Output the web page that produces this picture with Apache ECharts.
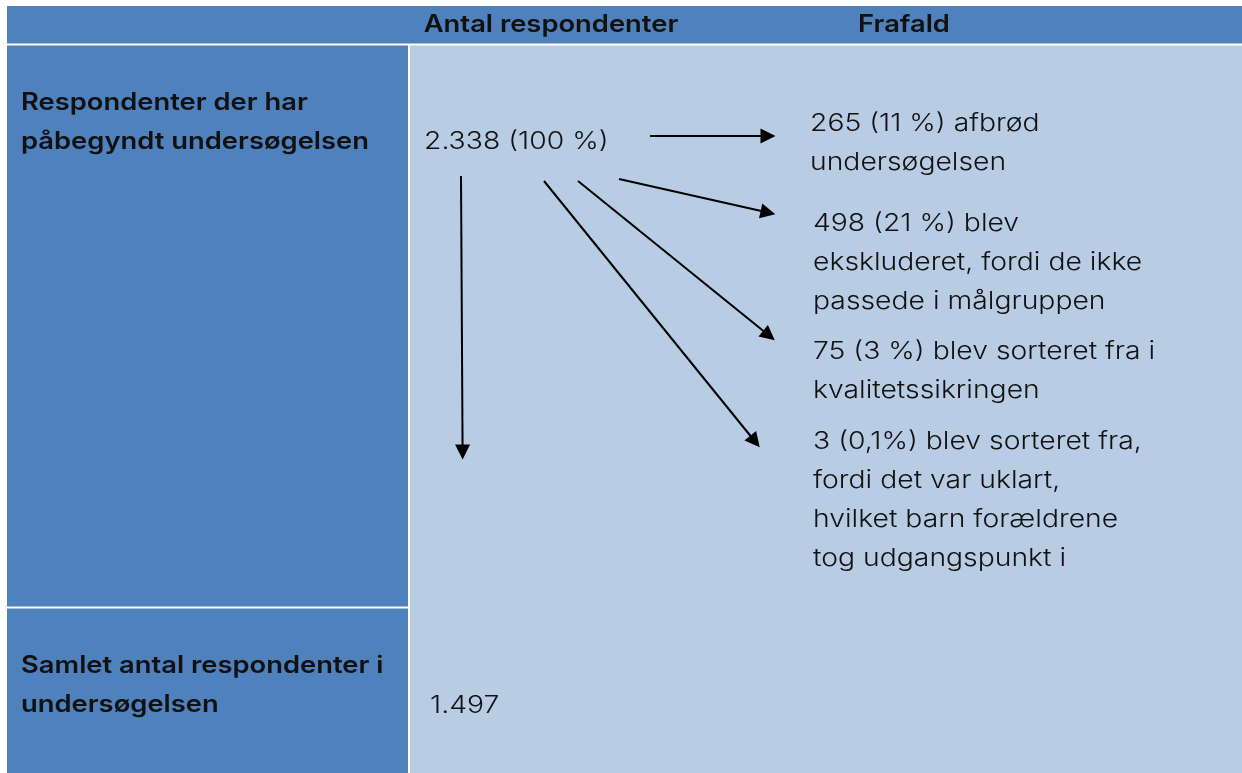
<!DOCTYPE html>
<html>
<head>
<meta charset="utf-8">
<script src="https://cdn.jsdelivr.net/npm/echarts@6/dist/echarts.min.js"></script>
<style>
html,body{margin:0;padding:0;background:#fff;}
#chart{width:1242px;height:773px;}
</style>
</head>
<body>
<div id="chart"></div>
<script>
// ---- content ----
var headers = ['Antal respondenter', 'Frafald'];
var rowLabels = [
  ['Respondenter der har', 'påbegyndt undersøgelsen'],
  ['Samlet antal respondenter i', 'undersøgelsen']
];
var counts = ['2.338 (100 %)', '1.497'];
var dropouts = [
  ['265 (11 %) afbrød', 'undersøgelsen'],
  ['498 (21 %) blev', 'ekskluderet, fordi de ikke', 'passede i målgruppen'],
  ['75 (3 %) blev sorteret fra i', 'kvalitetssikringen'],
  ['3 (0,1%) blev sorteret fra,', 'fordi det var uklart,', 'hvilket barn forældrene', 'tog udgangspunkt i']
];

// ---- layout (pixel-space coordinates on hidden axes) ----
var W = 1242, H = 773;
var cells = [ // [x0, y0, x1, y1, colour]
  [7, 6, 1242, 43.5, '#4F81BD'],
  [7, 45.5, 408, 606.5, '#4F81BD'],
  [7, 608.5, 408, 773, '#4F81BD'],
  [410, 45.5, 1242, 773, '#B8CCE4']
];
var headerPos = [[551, 25], [904, 25]];
var rowLabelPos = [[21, 103], [21, 666]];
var countPos = [[424, 142], [430, 706]];
var dropPos = [[810, 124], [813, 224], [813, 352], [813, 442]];
var lineGap = 38.8;
var arrows = [
  [[650, 136], [768, 136]],
  [[619, 179], [768, 212.5]],
  [[578, 181], [769, 335.5]],
  [[544, 181], [755, 441.5]],
  [[461, 176], [462.6, 452]]
];

var FONT = 'Inter, "Open Sans", sans-serif';
var texts = [];
headers.forEach(function (t, i) {
  texts.push({ t: t, x: headerPos[i][0], y: headerPos[i][1], bold: true, align: 'center' });
});
rowLabels.forEach(function (lines, i) {
  lines.forEach(function (t, j) {
    texts.push({ t: t, x: rowLabelPos[i][0], y: rowLabelPos[i][1] + j * lineGap, bold: true, align: 'left' });
  });
});
counts.forEach(function (t, i) {
  texts.push({ t: t, x: countPos[i][0], y: countPos[i][1], bold: false, align: 'left' });
});
dropouts.forEach(function (lines, i) {
  lines.forEach(function (t, j) {
    texts.push({ t: t, x: dropPos[i][0], y: dropPos[i][1] + j * lineGap, bold: false, align: 'left' });
  });
});

var chart = echarts.init(document.getElementById('chart'), null, { renderer: 'canvas' });
chart.setOption({
  animation: false,
  backgroundColor: '#ffffff',
  grid: { left: 0, right: 0, top: 0, bottom: 0 },
  xAxis: { type: 'value', min: 0, max: W, show: false },
  yAxis: { type: 'value', min: 0, max: H, inverse: true, show: false },
  series: [
    {
      type: 'custom',
      silent: true,
      data: cells.map(function (c) { return c.slice(0, 4); }),
      renderItem: function (params, api) {
        var p0 = api.coord([api.value(0), api.value(1)]);
        var p1 = api.coord([api.value(2), api.value(3)]);
        return {
          type: 'rect',
          shape: { x: p0[0], y: p0[1], width: p1[0] - p0[0], height: p1[1] - p0[1] },
          style: { fill: cells[params.dataIndex][4] }
        };
      },
      z: 1
    },
    {
      type: 'lines',
      coordinateSystem: 'cartesian2d',
      silent: true,
      symbol: ['none', 'triangle'],
      symbolSize: 15,
      lineStyle: { color: '#000', width: 2, opacity: 1, curveness: 0 },
      itemStyle: { color: '#000' },
      data: arrows.map(function (a) { return { coords: a }; }),
      z: 3
    },
    {
      type: 'custom',
      silent: true,
      data: texts.map(function (d) { return [d.x, d.y]; }),
      renderItem: function (params, api) {
        var d = texts[params.dataIndex];
        var p = api.coord([api.value(0), api.value(1)]);
        return {
          type: 'text',
          x: p[0], y: p[1],
          scaleX: d.bold ? 1.14 : 1.18,
          style: {
            text: d.t,
            fill: '#111',
            font: (d.bold ? '600 ' : '300 ') + '24px ' + FONT,
            align: d.align,
            verticalAlign: 'middle'
          }
        };
      },
      z: 4
    }
  ]
});
</script>
</body>
</html>
